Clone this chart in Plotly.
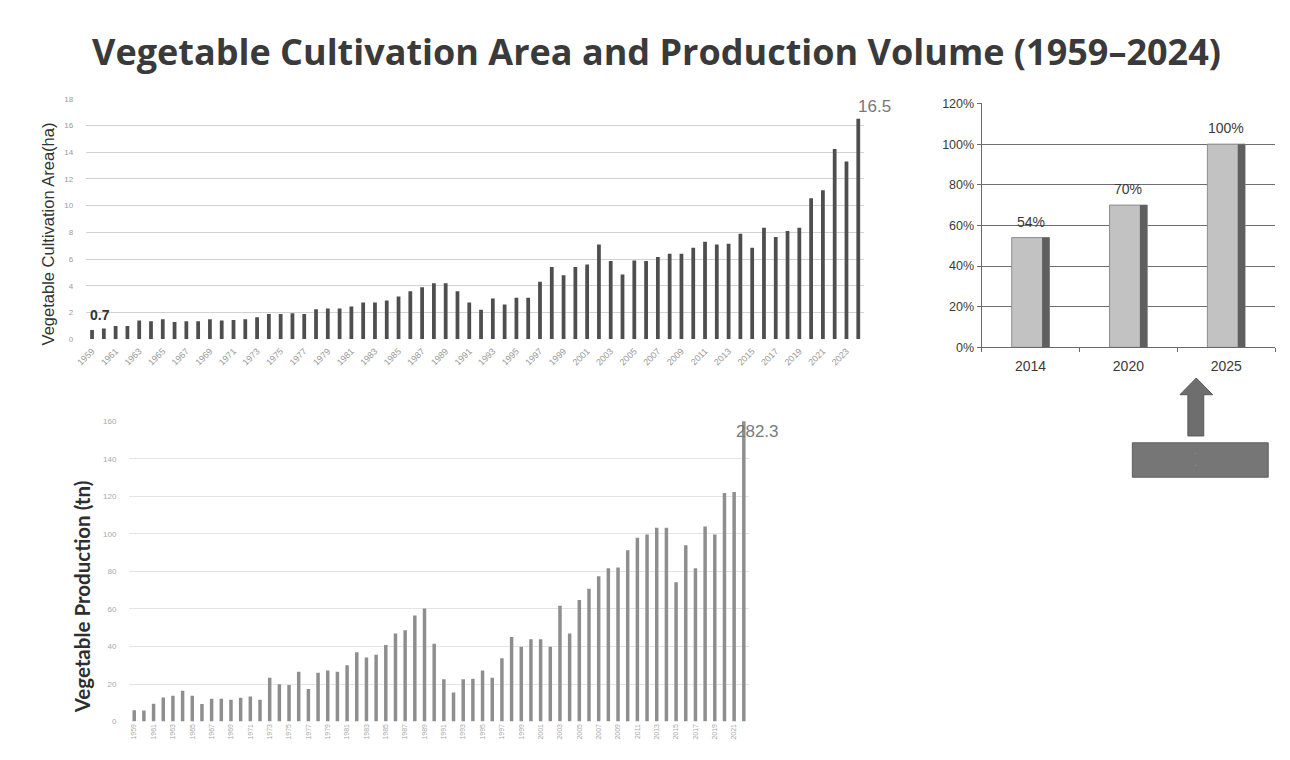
import plotly.graph_objects as go

# ---- data ----
area_years = [str(y) for y in range(1959, 2025)]
area_ha = [0.7, 0.8, 1.0, 1.0, 1.4, 1.35, 1.5, 1.3, 1.35, 1.35,
           1.5, 1.4, 1.45, 1.5, 1.65, 1.9, 1.9, 1.95, 1.9, 2.25,
           2.3, 2.3, 2.45, 2.75, 2.75, 2.9, 3.2, 3.6, 3.9, 4.2,
           4.2, 3.6, 2.75, 2.2, 3.05, 2.6, 3.1, 3.1, 4.3, 5.4,
           4.8, 5.4, 5.6, 7.1, 5.85, 4.85, 5.9, 5.85, 6.15, 6.4,
           6.4, 6.85, 7.3, 7.1, 7.15, 7.9, 6.85, 8.35, 7.65, 8.1,
           8.35, 10.55, 11.15, 14.25, 13.3, 16.5]

prod_years = [str(y) for y in range(1959, 2023)]
prod_tn = [6.0, 5.9, 9.5, 12.9, 13.8, 16.4, 13.8, 9.4, 12.2, 12.2,
           11.7, 12.7, 13.4, 11.7, 23.4, 19.9, 19.5, 26.5, 17.3, 26.0,
           27.2, 26.5, 30.0, 37.0, 34.2, 35.6, 40.8, 46.9, 48.6, 56.5,
           60.3, 41.5, 22.5, 15.5, 22.5, 22.8, 27.2, 23.4, 33.8, 45.1,
           39.9, 43.9, 43.9, 39.9, 61.7, 46.9, 64.8, 70.8, 77.4, 81.7,
           82.1, 91.3, 97.9, 99.7, 103.2, 103.2, 74.2, 94.0, 81.7, 103.9,
           99.7, 121.8, 122.3, 282.3]

target_years = ["2014", "2020", "2025"]
target_share = [0.54, 0.70, 1.00]

TITLE = "Vegetable Cultivation Area and Production Volume (1959–2024)"

W, H = 1290, 760


def px(x):
    return x / W


def py(y):
    return 1 - y / H


# bars sit at integer slots; year labels are attached as tick text
area_pos = list(range(len(area_years)))
prod_pos = list(range(len(prod_years)))
target_pos = list(range(len(target_years)))

fig = go.Figure()

# cultivation area bars (top-left panel)
fig.add_trace(go.Bar(
    x=area_pos, y=area_ha, xaxis="x", yaxis="y",
    width=0.32, marker=dict(color="#4e4e4e", line=dict(width=0)),
    customdata=area_years, hovertemplate="%{customdata}: %{y}<extra></extra>",
    showlegend=False,
))

# production bars (bottom-left panel)
fig.add_trace(go.Bar(
    x=prod_pos, y=prod_tn, xaxis="x2", yaxis="y2",
    width=0.36, marker=dict(color="#8e8e8e", line=dict(width=0)),
    customdata=prod_years, hovertemplate="%{customdata}: %{y}<extra></extra>",
    showlegend=False,
))

# target share column bars (right panel): body + darker side face
fig.add_trace(go.Bar(
    x=target_pos, y=target_share, xaxis="x3", yaxis="y3",
    width=0.385, marker=dict(color="#c2c2c2", line=dict(color="#8c8c8c", width=1)),
    customdata=target_years, hovertemplate="%{customdata}: %{y:.0%}<extra></extra>",
    showlegend=False,
))
fig.add_trace(go.Bar(
    x=target_pos, y=target_share, xaxis="x3", yaxis="y3",
    width=0.075, offset=0.1175,
    marker=dict(color="#5f5f5f", line=dict(width=0)),
    showlegend=False, hoverinfo="skip",
))

tick_font_small = dict(family="Liberation Sans", size=8, color="#9a9a9a")

shapes = [
    # arrow pointing up to the 2025 column
    dict(type="path", xref="paper", yref="paper",
         path=("M {a},{b} L {a},{c} L {d},{c} L {e},{f} L {g},{c} L {h},{c} L {h},{b} Z"
               .format(a=px(1187), b=py(437), c=py(395), d=px(1179),
                       e=px(1195.5), f=py(378), g=px(1212), h=px(1203))),
         fillcolor="#6e6e6e", line=dict(color="#585858", width=1)),
    # caption box under the arrow
    dict(type="rect", xref="paper", yref="paper",
         x0=px(1131), x1=px(1268), y0=py(479), y1=py(444),
         fillcolor="#767676", line=dict(color="#5c5c5c", width=1)),
]

annotations = [
    dict(text=f"<b>{TITLE}</b>", x=px(651), y=py(45), xref="paper", yref="paper",
         showarrow=False, xanchor="center", yanchor="middle",
         font=dict(family="Open Sans", size=36, color="#3a3a3a")),
    dict(text="Vegetable Cultivation Area(ha)", x=px(37), y=py(231),
         xref="paper", yref="paper", showarrow=False, textangle=-90,
         xanchor="center", yanchor="middle",
         font=dict(family="Liberation Sans", size=16.5, color="#333333")),
    dict(text="<b>Vegetable Production (tn)</b>", x=px(72), y=py(601),
         xref="paper", yref="paper", showarrow=False, textangle=-90,
         xanchor="center", yanchor="middle",
         font=dict(family="Lato", size=20.5, color="#2e2e2e")),
    dict(text=f"<b>{area_ha[0]}</b>", x=area_pos[0], y=area_ha[0],
         xref="x", yref="y", showarrow=False, xshift=8, yshift=15,
         font=dict(family="Liberation Sans", size=14, color="#333333")),
    dict(text=f"{area_ha[-1]}", x=area_pos[-1], y=area_ha[-1],
         xref="x", yref="y", showarrow=False, xshift=16, yshift=12,
         font=dict(family="Liberation Sans", size=17, color="#777777")),
    dict(text=f"{prod_tn[-1]}", x=prod_pos[-1], y=160,
         xref="x2", yref="y2", showarrow=False, xshift=14, yshift=-10,
         font=dict(family="Liberation Sans", size=17, color="#7a7a7a")),
    dict(text="·<br>·", x=px(1198), y=py(460), xref="paper", yref="paper",
         showarrow=False, font=dict(family="Liberation Sans", size=9, color="#9a9a9a")),
]

# value labels above the target columns
for i, v in zip(target_pos, target_share):
    annotations.append(dict(
        text=f"{v:.0%}", x=i, y=v, xref="x3", yref="y3", showarrow=False,
        yshift=16, font=dict(family="Liberation Sans", size=14, color="#3a3a3a")))

fig.update_layout(
    width=W, height=H,
    margin=dict(l=0, r=0, t=0, b=0),
    paper_bgcolor="white", plot_bgcolor="white",
    barmode="overlay",
    shapes=shapes, annotations=annotations,
    xaxis=dict(domain=[px(75.8), px(860.5)], anchor="y", type="linear",
               range=[-0.5, len(area_pos) - 0.5],
               tickmode="array", tickvals=area_pos[::2], ticktext=area_years[::2],
               tickangle=-45, tickfont=dict(family="Liberation Sans", size=9, color="#9a9a9a"),
               ticklabelstandoff=4, showgrid=False,
               showline=False, ticks="", zeroline=False, fixedrange=True),
    yaxis=dict(domain=[py(338.5), py(93.5)], anchor="x", range=[0, 18],
               tickvals=list(range(0, 19, 2)), tickfont=tick_font_small,
               ticklabelstandoff=12,
               gridcolor="#d2d2d2", gridwidth=1, zeroline=False,
               showline=False, ticks="", fixedrange=True),
    xaxis2=dict(domain=[px(119.4), px(744)], anchor="y2", type="linear",
                range=[-0.5, len(prod_pos) - 0.5],
                tickmode="array", tickvals=prod_pos[::2], ticktext=prod_years[::2],
                tickangle=-90, tickfont=dict(family="Liberation Sans", size=7, color="#a8a8a8"),
                showgrid=False, showline=False, ticks="", zeroline=False, fixedrange=True),
    yaxis2=dict(domain=[py(728), py(422)], anchor="x2", range=[0, 160],
                tickvals=list(range(0, 161, 20)),
                tickfont=dict(family="Liberation Sans", size=8, color="#a8a8a8"),
                ticklabelstandoff=12,
                gridcolor="#e4e4e4", gridwidth=1, zeroline=False,
                showline=False, ticks="", fixedrange=True),
    xaxis3=dict(domain=[px(979), px(1275)], anchor="y3", type="linear",
                range=[-0.5, len(target_pos) - 0.5],
                tickmode="array", tickvals=target_pos, ticktext=target_years,
                tickfont=dict(family="Liberation Sans", size=14, color="#3a3a3a"),
                ticklabelstandoff=6,
                showline=True, linecolor="#6a6a6a", linewidth=1,
                ticks="", showgrid=False, zeroline=False, fixedrange=True,
                minor=dict(tickmode="array",
                           tickvals=[p - 0.5 for p in target_pos] + [target_pos[-1] + 0.5],
                           ticks="outside", ticklen=4, tickcolor="#6a6a6a", showgrid=False)),
    yaxis3=dict(domain=[py(346.7), py(98.3)], anchor="x3", range=[0, 1.2],
                tickvals=[0, 0.2, 0.4, 0.6, 0.8, 1.0, 1.2], tickformat=".0%",
                tickfont=dict(family="Liberation Sans", size=12.5, color="#3a3a3a"),
                showline=True, linecolor="#6a6a6a", linewidth=1,
                ticks="outside", ticklen=4, tickcolor="#6a6a6a",
                gridcolor="#6e6e6e", gridwidth=1, zeroline=False, fixedrange=True),
)

fig.write_html("out.html")
